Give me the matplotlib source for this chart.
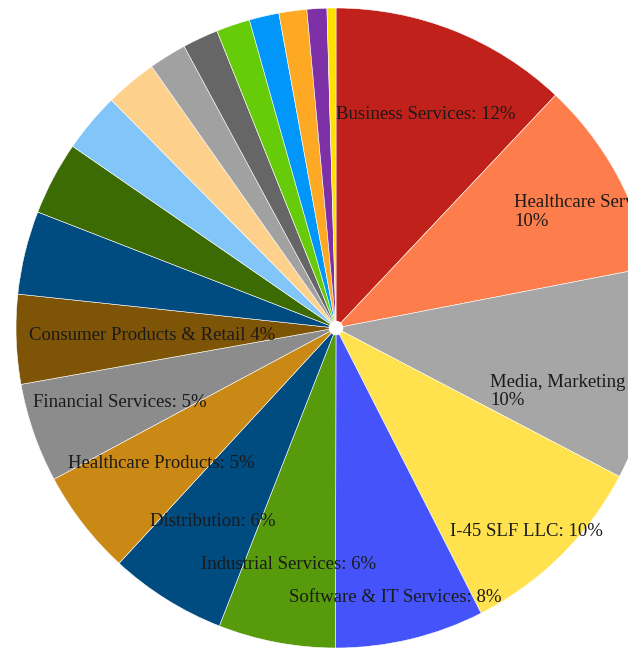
import matplotlib.pyplot as plt
from matplotlib.patches import Circle
import numpy as np

# slice shares (percent), clockwise from 12 o'clock
shares = [12.0, 9.9, 10.7, 9.8, 7.5, 5.9, 5.9, 5.3, 5.0, 4.5,
          4.2, 3.7, 3.0, 2.6, 1.9, 1.8, 1.7, 1.5, 1.4, 1.0, 0.45]
labels = ["Business Services: 12%", "Healthcare Services:\n10%",
          "Media, Marketing & Entertainment:\n10%", "I-45 SLF LLC: 10%",
          "Software & IT Services: 8%", "Industrial Services: 6%",
          "Distribution: 6%", "Healthcare Products: 5%",
          "Financial Services: 5%", "Consumer Products & Retail 4%"]
colors = ["#C0211A", "#FD7E4C", "#A6A6A6", "#FFE24E", "#4454FA", "#579B0C",
          "#004B80", "#C98914", "#8C8C8C", "#7E5407", "#004B80", "#3D6B03",
          "#82C5F8", "#FDD18C", "#A1A1A1", "#666666", "#66CC0A", "#0096FA",
          "#FDA924", "#7E30A6", "#FFE000"]
# label placement: fraction of radius, and clockwise nudge (deg) off the mid-angle
label_dist = [0.723, 0.877, 0.927, 0.870, 0.862, 0.754, 0.718, 0.691, 0.714, 0.574]
label_nudge = [1.3, 4.4, 4.0, 1.5, 1.1, 0.7, 0.4, 0.0, 0.1, -0.4]

W, H = 628, 651
cx, cy, R = 336, 328, 320

fig = plt.figure(figsize=(W / 100, H / 100), dpi=100)
ax = fig.add_axes([0, 0, 1, 1])
wedges, _ = ax.pie(shares, colors=colors, startangle=90, counterclock=False,
                   radius=R, normalize=True,
                   wedgeprops=dict(edgecolor="white", linewidth=0.4))
ax.set_xlim(-cx, W - cx)
ax.set_ylim(-(H - cy), cy)
ax.set_aspect("equal", adjustable="datalim")
ax.axis("off")

# small white hole in the middle
ax.add_patch(Circle((0, 0), 6.5, color="white", zorder=5))

for w, lab, d, nd in zip(wedges, labels, label_dist, label_nudge):
    ang = np.deg2rad((w.theta1 + w.theta2) / 2 - nd)
    x = d * R * np.cos(ang)
    y = d * R * np.sin(ang)
    ax.text(x, y, lab, ha="center", va="center", multialignment="left",
            family="Liberation Serif", fontsize=13.5, color="#1a1a1a",
            linespacing=1.1)

fig.savefig("out.png", dpi=100)
